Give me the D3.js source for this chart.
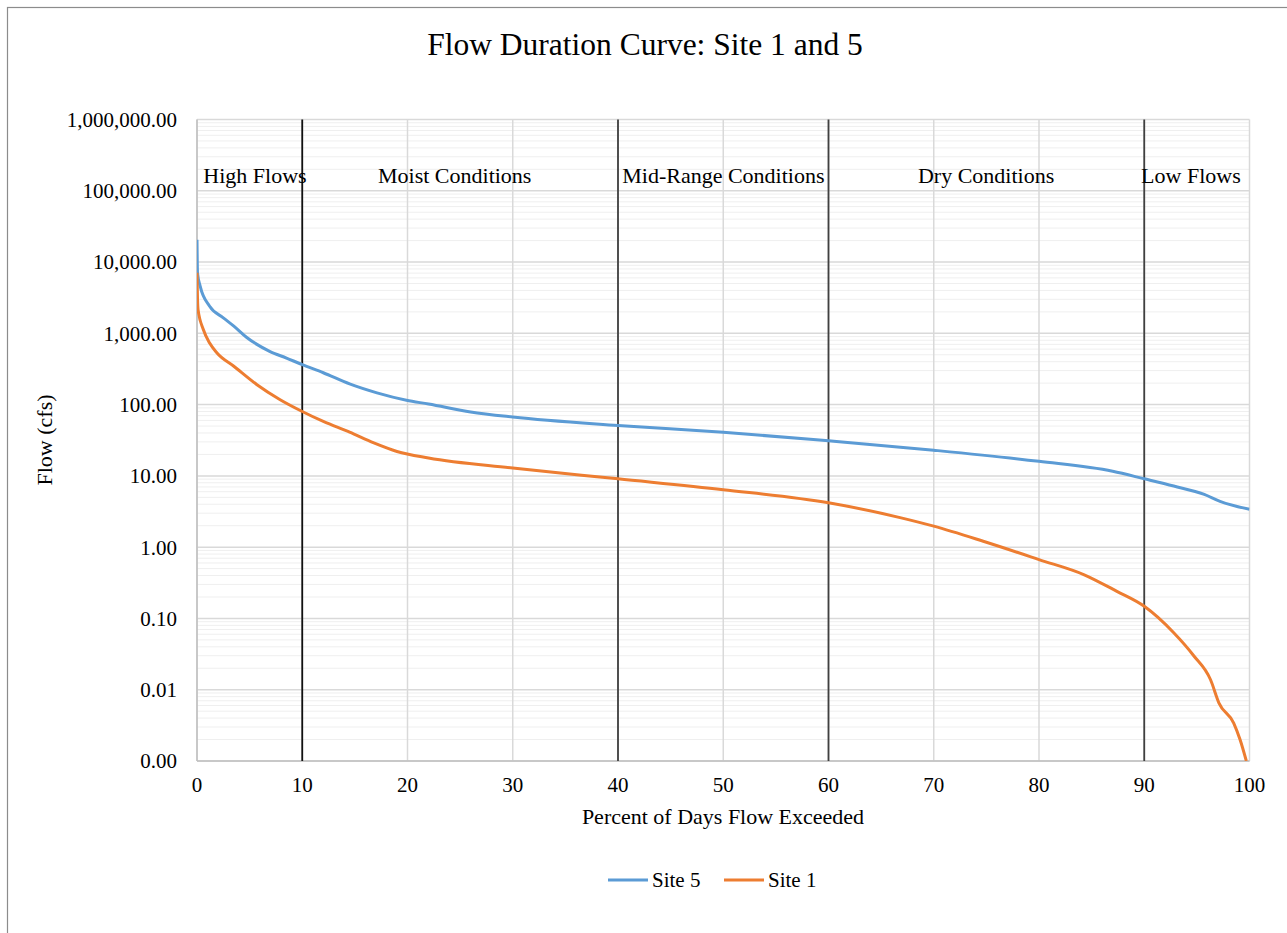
<!DOCTYPE html>
<html>
<head>
<meta charset="utf-8">
<script src="https://cdn.jsdelivr.net/npm/d3@7"></script>
<style>
  body { margin: 0; background: #fff; }
  svg { font-family: "Liberation Serif", "Times New Roman", serif; }
</style>
</head>
<body>
<div id="chart"></div>
<script>
// Flow duration data
const site5Pct = [0, 0.05, 0.3, 1.2, 2.5, 3.5, 4.7, 6.9, 8.5, 10, 12, 14.5, 17.1, 19.9, 22, 26, 30, 40, 50, 60, 70, 80, 87, 90, 92.8, 95.7, 97.2, 100];
const site5Flow = [20500, 7000, 4600, 2400, 1650, 1260, 880, 560, 450, 364, 280, 195, 146, 115, 102, 79, 67, 51, 41, 31, 22.9, 16, 11.6, 9.1, 7.2, 5.5, 4.4, 3.4];

const site1Pct = [0, 0.05, 0.1, 0.6, 1.2, 1.9, 3.5, 5.7, 7.9, 10, 12, 14.5, 16.8, 19, 22, 30, 40, 50, 60, 66.8, 70, 74.7, 80, 84.3, 87.4, 90, 92.8, 94.7, 96.3, 97.1, 98.5, 99.1, 99.7];
const site1Flow = [7100, 3000, 2150, 1130, 730, 530, 345, 190, 117, 80, 58, 41, 29, 22, 17.8, 12.9, 9.1, 6.4, 4.2, 2.6, 1.97, 1.21, 0.67, 0.41, 0.24, 0.148, 0.063, 0.03, 0.0138, 0.0065, 0.0034, 0.002, 0.001];

const xTicks = [0, 10, 20, 30, 40, 50, 60, 70, 80, 90, 100];
const yTicks = [0.001, 0.01, 0.1, 1, 10, 100, 1000, 10000, 100000, 1000000];

const zoneBreaks = [10, 40, 60, 90];
const zoneLabels = ["High Flows", "Moist Conditions", "Mid-Range Conditions", "Dry Conditions", "Low Flows"];
const zoneLabelX = [0.6, 17.2, 40.4, 68.5, 89.7];

const width = 1287;
const height = 933;
const plot = { left: 197, right: 1249.5, top: 119.5, bottom: 761 };

const svg = d3.select("#chart").append("svg")
  .attr("width", width)
  .attr("height", height);

// outer chart frame
svg.append("rect")
  .attr("x", 7.5).attr("y", 7.5)
  .attr("width", 1400).attr("height", 1100)
  .attr("fill", "none").attr("stroke", "#8c8c8c").attr("stroke-width", 1.2);

const x = d3.scaleLinear().domain([0, 100]).range([plot.left, plot.right]);
const y = d3.scaleLog().domain([0.001, 1000000]).range([plot.bottom, plot.top]);

// minor gridlines
const minor = [];
yTicks.slice(0, -1).forEach((t) => {
  for (let k = 2; k <= 9; k++) minor.push(t * k);
});
svg.append("g").selectAll("line").data(minor).join("line")
  .attr("x1", plot.left).attr("x2", plot.right)
  .attr("y1", (d) => y(d)).attr("y2", (d) => y(d))
  .attr("stroke", "#efefef").attr("stroke-width", 1);

// major gridlines
svg.append("g").selectAll("line").data(yTicks).join("line")
  .attr("x1", plot.left).attr("x2", plot.right)
  .attr("y1", (d) => y(d)).attr("y2", (d) => y(d))
  .attr("stroke", "#d9d9d9").attr("stroke-width", 1.5);

svg.append("g").selectAll("line").data(xTicks).join("line")
  .attr("x1", (d) => x(d)).attr("x2", (d) => x(d))
  .attr("y1", plot.top).attr("y2", plot.bottom)
  .attr("stroke", "#d9d9d9").attr("stroke-width", 1.5);

// axis lines
svg.append("line")
  .attr("x1", plot.left).attr("x2", plot.right)
  .attr("y1", plot.bottom).attr("y2", plot.bottom)
  .attr("stroke", "#bfbfbf").attr("stroke-width", 1.5);
svg.append("line")
  .attr("x1", plot.left).attr("x2", plot.left)
  .attr("y1", plot.top).attr("y2", plot.bottom)
  .attr("stroke", "#bfbfbf").attr("stroke-width", 1.5);

// tick labels
const fmt = d3.format(",.2f");
svg.append("g").selectAll("text").data(yTicks).join("text")
  .attr("x", 177).attr("y", (d) => y(d)).attr("dy", "0.35em")
  .attr("text-anchor", "end").attr("font-size", 21).attr("fill", "#000")
  .text((d) => fmt(d));

svg.append("g").selectAll("text").data(xTicks).join("text")
  .attr("x", (d) => x(d)).attr("y", 792)
  .attr("text-anchor", "middle").attr("font-size", 21).attr("fill", "#000")
  .text((d) => d);

// zone boundaries
svg.append("g").selectAll("line").data(zoneBreaks).join("line")
  .attr("x1", (d) => x(d)).attr("x2", (d) => x(d))
  .attr("y1", plot.top).attr("y2", plot.bottom)
  .attr("stroke", (d, i) => (i === 0 ? "#111" : "#404040"))
  .attr("stroke-width", 1.8);

svg.append("g").selectAll("text").data(zoneLabels).join("text")
  .attr("x", (d, i) => x(zoneLabelX[i])).attr("y", 183)
  .attr("font-size", 22).attr("fill", "#000")
  .text((d) => d);

// series
svg.append("clipPath").attr("id", "plotClip").append("rect")
  .attr("x", plot.left).attr("y", plot.top)
  .attr("width", plot.right - plot.left).attr("height", plot.bottom - plot.top);

const line = d3.line()
  .x((d) => x(d[0]))
  .y((d) => y(d[1]))
  .curve(d3.curveMonotoneX);

const series = [
  { name: "Site 5", pct: site5Pct, flow: site5Flow, color: "#5b9bd5" },
  { name: "Site 1", pct: site1Pct, flow: site1Flow, color: "#ed7d31" }
];

svg.append("g").attr("clip-path", "url(#plotClip)")
  .selectAll("path").data(series).join("path")
  .attr("d", (s) => line(s.pct.map((p, i) => [p, s.flow[i]])))
  .attr("fill", "none")
  .attr("stroke", (s) => s.color)
  .attr("stroke-width", 3)
  .attr("stroke-linejoin", "round");

// titles
svg.append("text")
  .attr("x", 645).attr("y", 55)
  .attr("text-anchor", "middle").attr("font-size", 31.5).attr("fill", "#000")
  .text("Flow Duration Curve: Site 1 and 5");

svg.append("text")
  .attr("x", 723).attr("y", 824)
  .attr("text-anchor", "middle").attr("font-size", 22).attr("fill", "#000")
  .text("Percent of Days Flow Exceeded");

svg.append("text")
  .attr("transform", "translate(52,440) rotate(-90)")
  .attr("text-anchor", "middle").attr("font-size", 22).attr("fill", "#000")
  .text("Flow (cfs)");

// legend
const legend = svg.append("g").selectAll("g").data(series).join("g")
  .attr("transform", (d, i) => `translate(${608 + i * 116},880)`);
legend.append("line")
  .attr("x1", 0).attr("x2", 40)
  .attr("stroke", (d) => d.color).attr("stroke-width", 3);
legend.append("text")
  .attr("x", 44).attr("dy", "0.35em")
  .attr("font-size", 21).attr("fill", "#000")
  .text((d) => d.name);
</script>
</body>
</html>
